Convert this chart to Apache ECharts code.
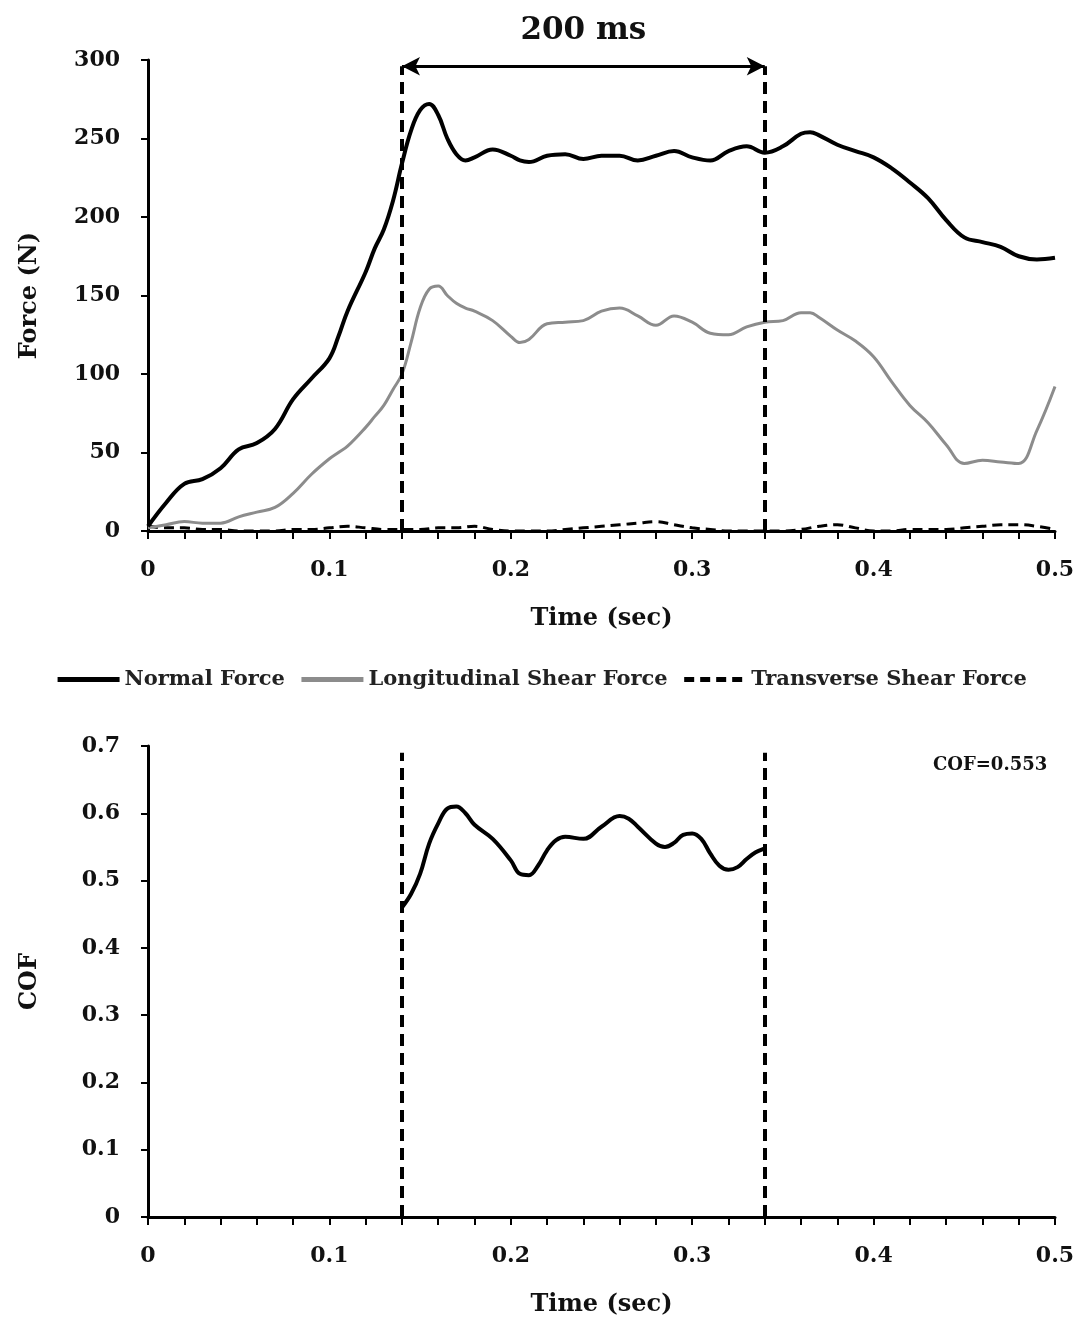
<!DOCTYPE html>
<html>
<head>
<meta charset="utf-8">
<script src="https://cdn.jsdelivr.net/npm/echarts@6/dist/echarts.min.js"></script>
<style>
  html, body { margin: 0; padding: 0; background: #fff; }
  #chart { width: 1082px; height: 1325px; }
</style>
</head>
<body>
<div id="chart"></div>
<script>
// force traces (N), shared time base (sec)
var forceTime = [0, 0.01, 0.02, 0.03, 0.04, 0.05, 0.06, 0.07, 0.08, 0.09, 0.10, 0.105, 0.11, 0.12, 0.125,
  0.13, 0.135, 0.14, 0.145, 0.15, 0.155, 0.16, 0.165, 0.17, 0.175, 0.18, 0.19, 0.20, 0.205, 0.21,
  0.22, 0.23, 0.24, 0.25, 0.26, 0.27, 0.28, 0.29, 0.30, 0.31, 0.32, 0.33, 0.34, 0.35, 0.36, 0.365,
  0.37, 0.38, 0.39, 0.40, 0.41, 0.42, 0.43, 0.44, 0.45, 0.46, 0.47, 0.48, 0.49, 0.50];
var normalForce = [3, 18, 30, 33, 40, 52, 56, 65, 84, 97, 110, 124, 140, 165, 180,
  192, 210, 234, 255, 268, 272, 265, 250, 240, 236, 238, 243, 239, 236, 235,
  239, 240, 237, 239, 239, 236, 239, 242, 238, 236, 242, 245, 241, 245, 253, 254,
  252, 246, 242, 238, 231, 222, 212, 198, 187, 184, 181, 175, 173, 174];
var longShear = [2, 4, 6, 5, 5, 9, 12, 15, 24, 36, 46, 50, 54, 66, 73,
  80, 90, 100, 120, 142, 154, 156, 150, 145, 142, 140, 134, 124, 120, 122,
  132, 133, 134, 140, 142, 137, 131, 137, 133, 126, 125, 130, 133, 134, 139, 139,
  136, 128, 121, 111, 95, 80, 69, 55, 43, 45, 44, 43, 64, 92];

var transTime = [0, 0.01, 0.02, 0.03, 0.04, 0.05, 0.06, 0.07, 0.08, 0.09, 0.10, 0.11, 0.12, 0.13, 0.14,
  0.15, 0.16, 0.17, 0.18, 0.19, 0.20, 0.21, 0.22, 0.23, 0.24, 0.25, 0.26, 0.27, 0.28, 0.29, 0.30,
  0.31, 0.32, 0.33, 0.34, 0.35, 0.36, 0.37, 0.38, 0.39, 0.40, 0.41, 0.42, 0.43, 0.44, 0.45, 0.46,
  0.47, 0.48, 0.49, 0.50];
var transShear = [3, 2, 2, 1, 1, 0, 0, 0, 1, 1, 2, 3, 2, 1, 1,
  1, 2, 2, 3, 1, 0, 0, 0, 1, 2, 3, 4, 5, 6, 4, 2,
  1, 0, 0, 0, 0, 1, 3, 4, 2, 0, 0, 1, 1, 1, 2, 3,
  4, 4, 3, 1];

// coefficient of friction inside the 200 ms window
var cofTime = [0.14, 0.145, 0.15, 0.155, 0.16, 0.165, 0.17, 0.175, 0.18, 0.19, 0.20, 0.205, 0.21, 0.215,
  0.22, 0.225, 0.23, 0.24, 0.25, 0.26, 0.265, 0.27, 0.28, 0.285, 0.29, 0.295, 0.30, 0.305, 0.31,
  0.315, 0.32, 0.325, 0.33, 0.335, 0.34];
var cofValue = [0.46, 0.48, 0.51, 0.555, 0.585, 0.607, 0.61, 0.60, 0.583, 0.562, 0.53, 0.51, 0.508, 0.522,
  0.545, 0.56, 0.565, 0.562, 0.58, 0.596, 0.592, 0.58, 0.555, 0.55, 0.556, 0.568, 0.57, 0.562, 0.54,
  0.522, 0.516, 0.52, 0.532, 0.542, 0.548];

var windowStart = 0.14;
var windowEnd = 0.34;
var legendNames = ['Normal Force', 'Longitudinal Shear Force', 'Transverse Shear Force'];

function pairs(xs, ys) {
  return xs.map(function (x, i) { return [x, ys[i]]; });
}

var FONT = 'DejaVu Serif';
var chartDom = document.getElementById('chart');
var myChart = echarts.init(chartDom);

function xAxisFor(gridIndex) {
  return {
    type: 'value',
    gridIndex: gridIndex,
    min: 0,
    max: 0.5,
    interval: 0.1,
    name: 'Time (sec)',
    nameLocation: 'middle',
    nameGap: 76,
    nameTextStyle: { fontFamily: FONT, fontWeight: 'bold', fontSize: 24, color: '#111' },
    axisLine: { show: true, onZero: false, lineStyle: { color: '#000', width: 3 } },
    axisTick: { show: true, inside: false, length: 8, lineStyle: { color: '#000', width: 2 } },
    minorTick: { show: true, splitNumber: 5, length: 8, lineStyle: { color: '#000', width: 2 } },
    axisLabel: { margin: 28, fontFamily: FONT, fontWeight: 'bold', fontSize: 22, color: '#111' },
    splitLine: { show: false }
  };
}

function yAxisFor(gridIndex, name, max, interval) {
  return {
    type: 'value',
    gridIndex: gridIndex,
    min: 0,
    max: max,
    interval: interval,
    name: name,
    nameLocation: 'middle',
    nameGap: 106,
    nameTextStyle: { fontFamily: FONT, fontWeight: 'bold', fontSize: 24, color: '#111' },
    axisLine: { show: true, lineStyle: { color: '#000', width: 3 } },
    axisTick: { show: true, length: 7, lineStyle: { color: '#000', width: 2 } },
    axisLabel: { margin: 28, fontFamily: FONT, fontWeight: 'bold', fontSize: 22, color: '#111' },
    splitLine: { show: false }
  };
}

var dashStyle = { color: '#000', width: 4, type: [12, 7] };

var option = {
  animation: false,
  backgroundColor: '#fff',
  grid: [
    { left: 148, right: 27, top: 60, height: 471 },
    { left: 148, right: 27, top: 746, height: 471 }
  ],
  legend: {
    data: legendNames,
    top: 664,
    left: 'center',
    itemWidth: 62,
    itemHeight: 14,
    itemGap: 14,
    itemStyle: { opacity: 0 },
    lineStyle: { width: 5 },
    textStyle: { fontFamily: FONT, fontWeight: 'bold', fontSize: 21, color: '#222' }
  },
  xAxis: [xAxisFor(0), xAxisFor(1)],
  yAxis: [yAxisFor(0, 'Force (N)', 300, 50), yAxisFor(1, 'COF', 0.7, 0.1)],
  graphic: [
    {
      type: 'text',
      left: 933,
      top: 756,
      style: { text: 'COF=0.553', font: 'bold 18px "DejaVu Serif"', fill: '#111' }
    }
  ],
  series: [
    {
      name: 'Transverse Shear Force',
      type: 'line',
      xAxisIndex: 0,
      yAxisIndex: 0,
      smooth: 0.4,
      symbol: 'none',
      lineStyle: { color: '#000', width: 3, type: [10, 6] },
      itemStyle: { color: '#000' },
      data: pairs(transTime, transShear)
    },
    {
      name: 'Longitudinal Shear Force',
      type: 'line',
      xAxisIndex: 0,
      yAxisIndex: 0,
      smooth: 0.4,
      symbol: 'none',
      lineStyle: { color: '#8c8c8c', width: 3 },
      itemStyle: { color: '#8c8c8c' },
      data: pairs(forceTime, longShear)
    },
    {
      name: 'Normal Force',
      type: 'line',
      xAxisIndex: 0,
      yAxisIndex: 0,
      smooth: 0.4,
      symbol: 'none',
      lineStyle: { color: '#000', width: 4 },
      itemStyle: { color: '#000' },
      data: pairs(forceTime, normalForce),
      markLine: {
        silent: true,
        symbol: ['none', 'none'],
        lineStyle: dashStyle,
        label: { show: false },
        data: [
          [{ coord: [windowStart, 0] }, { coord: [windowStart, 296] }],
          [{ coord: [windowEnd, 0] }, { coord: [windowEnd, 296] }],
          [
            { coord: [windowStart, 296], symbol: 'arrow', symbolSize: [14, 18],
              lineStyle: { type: 'solid', width: 3, color: '#000' },
              label: { show: true, position: 'middle', formatter: '200 ms', distance: 20,
                fontFamily: FONT, fontWeight: 'bold', fontSize: 31, color: '#111' } },
            { coord: [windowEnd, 296], symbol: 'arrow', symbolSize: [14, 18] }
          ]
        ]
      }
    },
    {
      name: 'COF',
      type: 'line',
      xAxisIndex: 1,
      yAxisIndex: 1,
      smooth: 0.4,
      symbol: 'none',
      lineStyle: { color: '#000', width: 4 },
      itemStyle: { color: '#000' },
      data: pairs(cofTime, cofValue),
      markLine: {
        silent: true,
        symbol: ['none', 'none'],
        lineStyle: dashStyle,
        label: { show: false },
        data: [
          [{ coord: [windowStart, 0] }, { coord: [windowStart, 0.69] }],
          [{ coord: [windowEnd, 0] }, { coord: [windowEnd, 0.69] }]
        ]
      }
    }
  ]
};

myChart.setOption(option);
</script>
</body>
</html>
